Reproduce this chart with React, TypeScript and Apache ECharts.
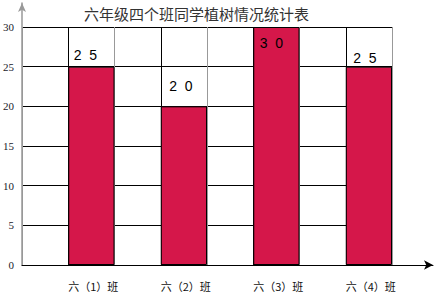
import React, { useEffect, useRef } from "react";
import * as echarts from "echarts";

// 六年级四个班植树情况
const classes = ["六（1）班", "六（2）班", "六（3）班", "六（4）班"];
const treesPlanted = [25, 20, 30, 25];
const yTicks = { min: 0, max: 30, interval: 5 };
const chartTitle = "六年级四个班同学植树情况统计表";

// per-bar tweak of where the value label sits
const labelOffsets: [number, number][] = [
  [-6, 0],
  [-3, -8],
  [-5, 28],
  [-4, 3],
];

export default function App() {
  const ref = useRef<HTMLDivElement>(null);

  useEffect(() => {
    if (!ref.current) return;
    const chart = echarts.init(ref.current, undefined, { renderer: "svg" });

    const spaced = (v: number) => String(v).split("").join("  ");

    chart.setOption({
      animation: false,
      backgroundColor: "#ffffff",
      title: {
        text: chartTitle,
        left: 84,
        top: 6,
        padding: 0,
        textStyle: {
          fontFamily: "Noto Sans CJK SC",
          fontSize: 15,
          fontWeight: "normal",
          color: "#333333",
        },
      },
      grid: [
        { left: 22, right: 43, top: 27, bottom: 28 },
        { left: 22, right: 2, top: 3, bottom: 28 },
      ],
      xAxis: [
        {
          type: "category",
          gridIndex: 0,
          data: classes,
          boundaryGap: true,
          axisLine: { show: false },
          axisTick: { show: false },
          splitLine: { show: false },
          axisLabel: {
            margin: 15,
            padding: [0, 0, 0, 50],
            fontFamily: "Noto Sans CJK SC",
            fontSize: 11,
            color: "#111111",
          },
        },
        {
          // vertical grid lines every half band
          type: "value",
          gridIndex: 0,
          min: 0,
          max: 8,
          interval: 1,
          position: "top",
          axisLine: { show: false },
          axisTick: { show: false },
          axisLabel: { show: false },
          splitLine: {
            show: true,
            lineStyle: { color: ["#999999", "#000000"], width: 1 },
          },
        },
        {
          // x axis line with arrow
          type: "value",
          gridIndex: 1,
          min: 0,
          max: 1,
          axisLine: {
            show: true,
            onZero: false,
            symbol: ["none", "arrow"],
            symbolSize: [7, 9],
            lineStyle: { color: "#000000", width: 1 },
          },
          axisTick: { show: false },
          axisLabel: { show: false },
          splitLine: { show: false },
        },
      ],
      yAxis: [
        {
          type: "value",
          gridIndex: 0,
          min: yTicks.min,
          max: yTicks.max,
          interval: yTicks.interval,
          axisLine: { show: false },
          axisTick: { show: false },
          axisLabel: {
            margin: 8,
            fontFamily: "Liberation Serif",
            fontSize: 11,
            color: "#1a1a2a",
          },
          splitLine: {
            show: true,
            lineStyle: { color: "#000000", width: 1 },
          },
        },
        {
          // y axis line with arrow
          type: "value",
          gridIndex: 1,
          min: 0,
          max: 1,
          axisLine: {
            show: true,
            onZero: false,
            symbol: ["none", "arrow"],
            symbolSize: [6, 9],
            lineStyle: { color: "#999999", width: 1.5 },
          },
          axisTick: { show: false },
          axisLabel: { show: false },
          splitLine: { show: false },
        },
      ],
      series: [
        {
          // empty left half of each band
          type: "bar",
          xAxisIndex: 0,
          yAxisIndex: 0,
          data: classes.map(() => null),
          barWidth: "50%",
          barGap: "0%",
          silent: true,
        },
        {
          type: "bar",
          name: "植树棵数",
          xAxisIndex: 0,
          yAxisIndex: 0,
          barWidth: "50%",
          barGap: "0%",
          itemStyle: {
            color: "#D5174A",
            borderColor: "#000000",
            borderWidth: 1,
          },
          data: treesPlanted.map((v, i) => ({
            value: v,
            label: { offset: labelOffsets[i] },
          })),
          label: {
            show: true,
            position: "top",
            formatter: (p: any) => spaced(p.value),
            fontFamily: "Liberation Sans",
            fontSize: 14,
            color: "#000000",
          },
        },
      ],
    });

    return () => chart.dispose();
  }, []);

  return (
    <div
      ref={ref}
      style={{ position: "fixed", left: 0, top: 0, width: 435, height: 293 }}
    />
  );
}
